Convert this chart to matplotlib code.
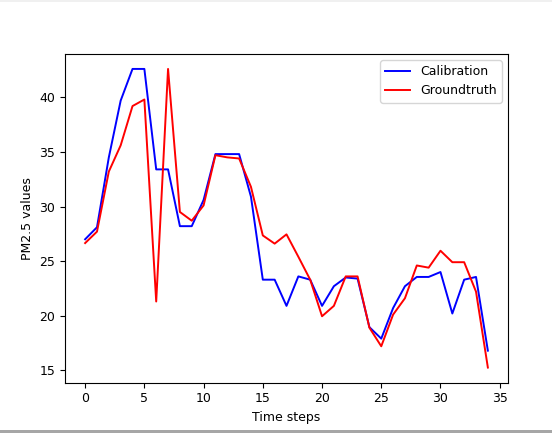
import matplotlib
matplotlib.use("Agg")
import matplotlib.pyplot as plt
from matplotlib.patches import Rectangle

time_steps = list(range(35))
calibration = [27.0, 28.1, 34.5, 39.7, 42.6, 42.6, 33.4, 33.4, 28.2, 28.2,
               30.6, 34.8, 34.8, 34.8, 30.9, 23.3, 23.3, 20.9, 23.6, 23.3,
               20.9, 22.7, 23.5, 23.4, 18.95, 17.9, 20.7, 22.7, 23.55, 23.55,
               24.0, 20.2, 23.3, 23.55, 16.8]
groundtruth = [26.65, 27.7, 33.2, 35.6, 39.2, 39.8, 21.3, 42.6, 29.5, 28.7,
               30.1, 34.7, 34.5, 34.4, 31.8, 27.35, 26.6, 27.45, 25.4, 23.3,
               19.95, 20.9, 23.6, 23.6, 18.9, 17.2, 20.1, 21.6, 24.6, 24.4,
               25.95, 24.9, 24.9, 22.2, 15.25]

plt.rcParams['font.size'] = 9
fig = plt.figure(figsize=(5.52, 4.33), dpi=100)
W, H = 552, 433
ax = fig.add_axes([65 / W, (H - 382.5) / H, 443 / W, 328.5 / H])
ax.plot(time_steps, calibration, color='blue', label='Calibration', linewidth=1.4)
ax.plot(time_steps, groundtruth, color='red', label='Groundtruth', linewidth=1.4)
ax.set_xlabel('Time steps')
ax.set_ylabel('PM2.5 values')
ax.set_xticks([0, 5, 10, 15, 20, 25, 30, 35])
ax.set_yticks([15, 20, 25, 30, 35, 40])
ax.legend(loc='upper right')

# screenshot frame artifacts
fig.patches.append(Rectangle((0, 0), 1, 3 / H, transform=fig.transFigure,
                             facecolor='#a6a6a6', edgecolor='none'))
fig.patches.append(Rectangle((0, (H - 1.5) / H), 1, 1.5 / H, transform=fig.transFigure,
                             facecolor='#f0f0f0', edgecolor='none'))

fig.savefig('out.png', dpi=100)
